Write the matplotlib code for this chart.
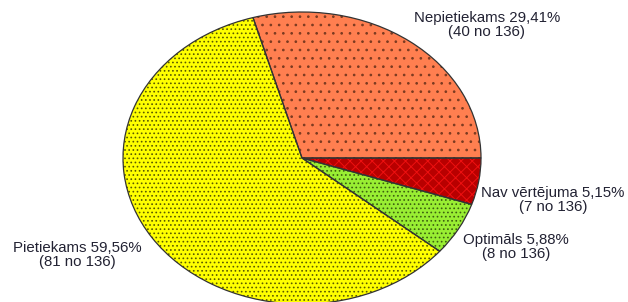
import matplotlib
matplotlib.use("Agg")
import matplotlib.pyplot as plt

categories = ["Nepietiekams", "Pietiekams", "Optimāls", "Nav vērtējuma"]
counts = [40, 81, 8, 7]
total = 136
percent_labels = ["29,41%", "59,56%", "5,88%", "5,15%"]
colors = ["#FF7F50", "#FFFF00", "#99EE33", "#B80000"]
hatch_colors = ["#7a3a20", "#5a5a00", "#3c6010", "#EE1010"]
hatches = ["..", "....", "....", "xxx"]

plt.rcParams["hatch.linewidth"] = 0.7

W, H = 628, 302
fig = plt.figure(figsize=(W / 100, H / 100), dpi=100)
ax = fig.add_axes([0, 0, 1, 1])
ax.axis("off")

cx, cy, rx, ry = 302, 158, 179, 146

# fill with hatch
wedges, _ = ax.pie(counts, startangle=0, counterclock=True, radius=1,
                   wedgeprops=dict(linewidth=0))
for w, c, hc, h in zip(wedges, colors, hatch_colors, hatches):
    w.set_facecolor(c)
    w.set_edgecolor(hc)
    w.set_hatch(h)
    w.set_linewidth(0)
# outline
wedges2, _ = ax.pie(counts, startangle=0, counterclock=True, radius=1,
                    wedgeprops=dict(fill=False, edgecolor="#333333", linewidth=0.9))
ax.set_aspect("auto")
ax.set_xlim((0 - cx) / rx, (W - cx) / rx)
ax.set_ylim((cy - H) / ry, cy / ry)

def px(x, y):
    return ((x - cx) / rx, (cy - y) / ry)

label_pos = [(487, 25), (77, 255), (516, 247), (553, 200)]
for cat, n, p, (lx, ly) in zip(categories, counts, percent_labels, label_pos):
    X, Y = px(lx, ly)
    ax.text(X, Y, f"{cat} {p}\n({n} no {total})", ha="center", va="center",
            multialignment="center", fontsize=10.8, family="Liberation Sans",
            color="#222233", linespacing=1.0)

fig.savefig("out.png", dpi=100)
